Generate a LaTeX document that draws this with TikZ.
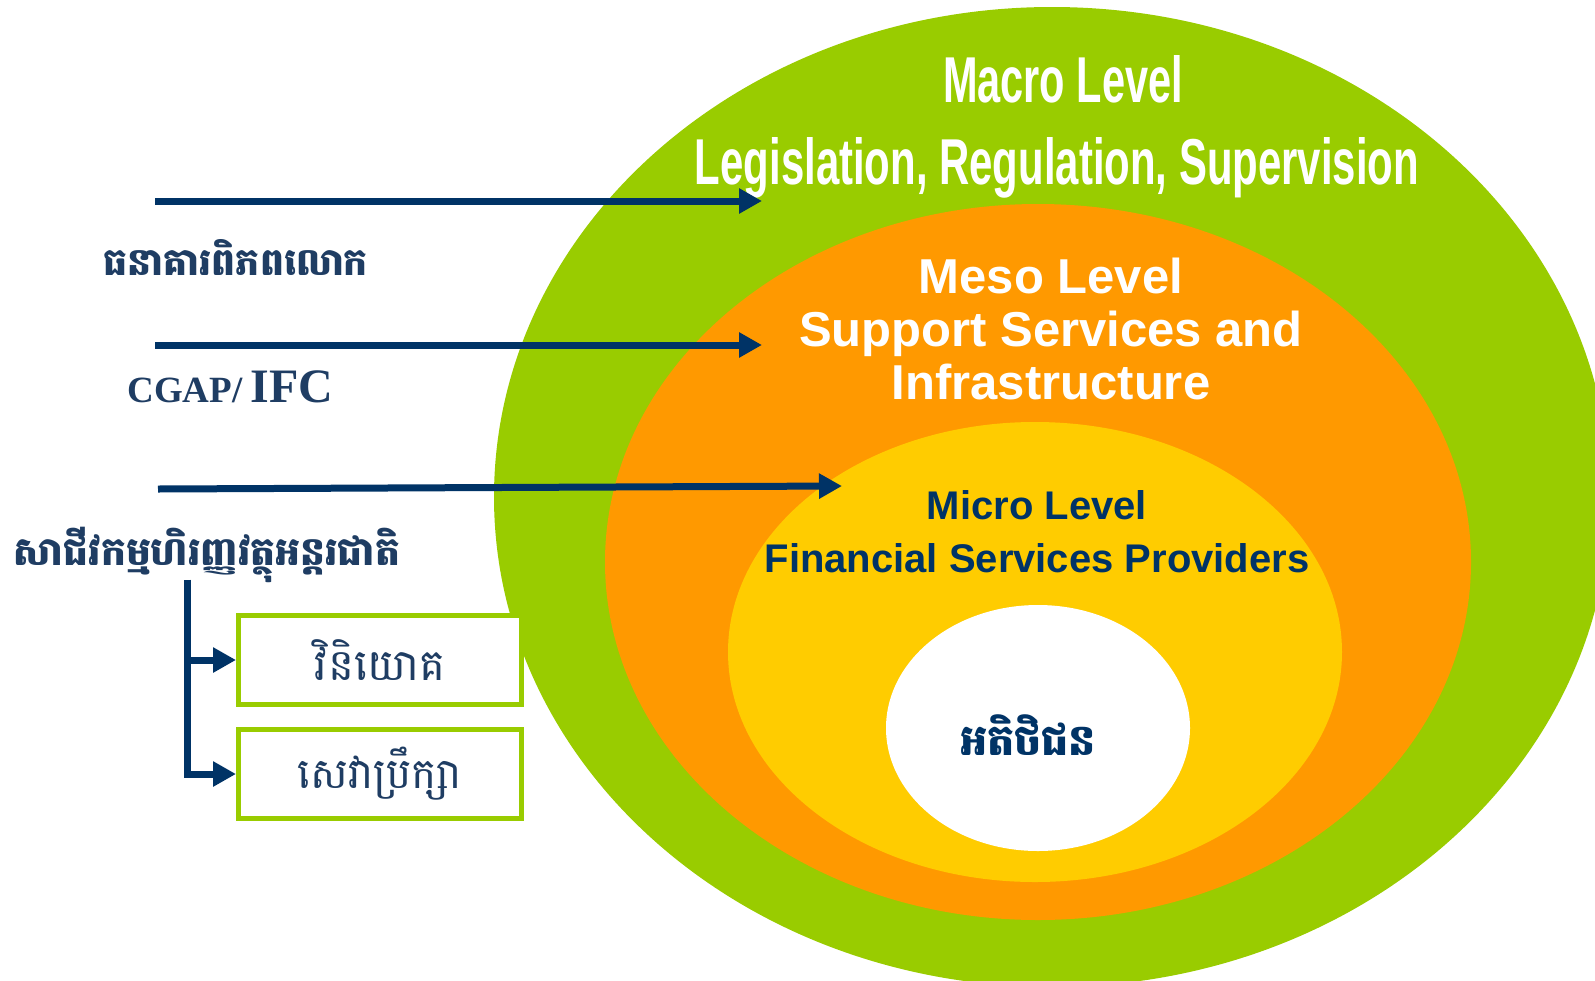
\documentclass[tikz,border=0pt]{standalone}
\usepackage{fontspec}
\usepackage{graphicx}
\setmainfont{Liberation Sans}
\newfontfamily\khmer[Script=Khmer]{Battambang}
\newfontfamily\serifb{Liberation Serif}
\usetikzlibrary{arrows.meta}
\definecolor{lgreen}{HTML}{99CC00}
\definecolor{lorange}{HTML}{FF9900}
\definecolor{lyellow}{HTML}{FFCC00}
\definecolor{navy}{HTML}{003366}
\definecolor{slate}{HTML}{1F3D63}
\tikzset{
  arr/.style={draw=navy, line width=3.5pt, -{Triangle[length=11.5pt,width=12pt]}},
  brk/.style={draw=navy, line width=3.5pt},
  whitetxt/.style={text=white, inner sep=0pt},
  navytxt/.style={text=navy, inner sep=0pt},
  lefttxt/.style={text=slate, inner sep=0pt},
  greenbox/.style={draw=lgreen, line width=2.5pt, fill=white, minimum width=141.5pt, minimum height=44.5pt, inner sep=0pt, text=slate}
}
\begin{document}
\begin{tikzpicture}[x=0.5pt,y=-0.5pt]
\useasboundingbox (0,0) rectangle (1595,980);
% nested levels
\fill[lgreen] (1052,497) ellipse [x radius=279pt, y radius=245pt];
\fill[lorange] (1038,562) ellipse [x radius=216.5pt, y radius=179pt];
\fill[lyellow] (1035,652) ellipse [x radius=153.5pt, y radius=115pt];
\fill[white] (1038,728) ellipse [x radius=76pt, y radius=61.5pt];
% level texts
\node[whitetxt, anchor=base] (macro) at (1063,102.5) {\resizebox{120pt}{23.5pt}{\bfseries Macro Level}};
\node[whitetxt, anchor=base] (macrosub) at (1057,184.5) {\resizebox{362pt}{23.5pt}{\bfseries Legislation, Regulation, Supervision}};
\node[whitetxt, align=center, font=\fontsize{24.5pt}{26.5pt}\selectfont\bfseries] (meso) at (1051,329) {Meso Level\\Support Services and\\Infrastructure};
\node[navytxt, align=center, font=\fontsize{20pt}{26.5pt}\selectfont\bfseries] (micro) at (1037,532) {Micro Level\\Financial Services Providers};
\node[navytxt] (client) at (1028,735) {\resizebox{68pt}{!}{\khmer\bfseries អតិថិជន}};
% left labels
\node[lefttxt] (wb) at (236,257) {\resizebox{132pt}{!}{\khmer\bfseries ធនាគារពិភពលោក}};
\node[lefttxt, anchor=base west] (cgap) at (127,402) {\serifb\bfseries{\fontsize{18.5pt}{20pt}\selectfont CGAP/}\hspace{4pt}{\fontsize{24pt}{26pt}\selectfont IFC}};
\node[lefttxt] (ifc) at (207,555) {\resizebox{193pt}{!}{\khmer\bfseries សាជីវកម្មហិរញ្ញវត្ថុអន្តរជាតិ}};
\node[greenbox] (invest) at (380,660) {\resizebox{65pt}{!}{\khmer វិនិយោគ}};
\node[greenbox] (advice) at (380,774) {\resizebox{82pt}{!}{\khmer សេវាប្រឹក្សា}};
% arrows
\coordinate (s1) at (155,201); \coordinate (e1) at (762,201);
\coordinate (s2) at (155,345); \coordinate (e2) at (762,345);
\coordinate (s3) at (158,489); \coordinate (e3) at (842,486);
\draw[arr] (s1) -- (e1);
\draw[arr] (s2) -- (e2);
\draw[arr] (s3) -- (e3);
% bracket
\coordinate (btop) at (187,583);
\coordinate (bmid) at (187,660);
\coordinate (bbot) at (187,774);
\draw[brk] (btop) -- (bbot);
\draw[arr] (bmid) -- (invest.west);
\draw[arr, line join=miter] ([yshift=1.75pt]btop) -- (bbot) -- (advice.west);
\end{tikzpicture}
\end{document}
